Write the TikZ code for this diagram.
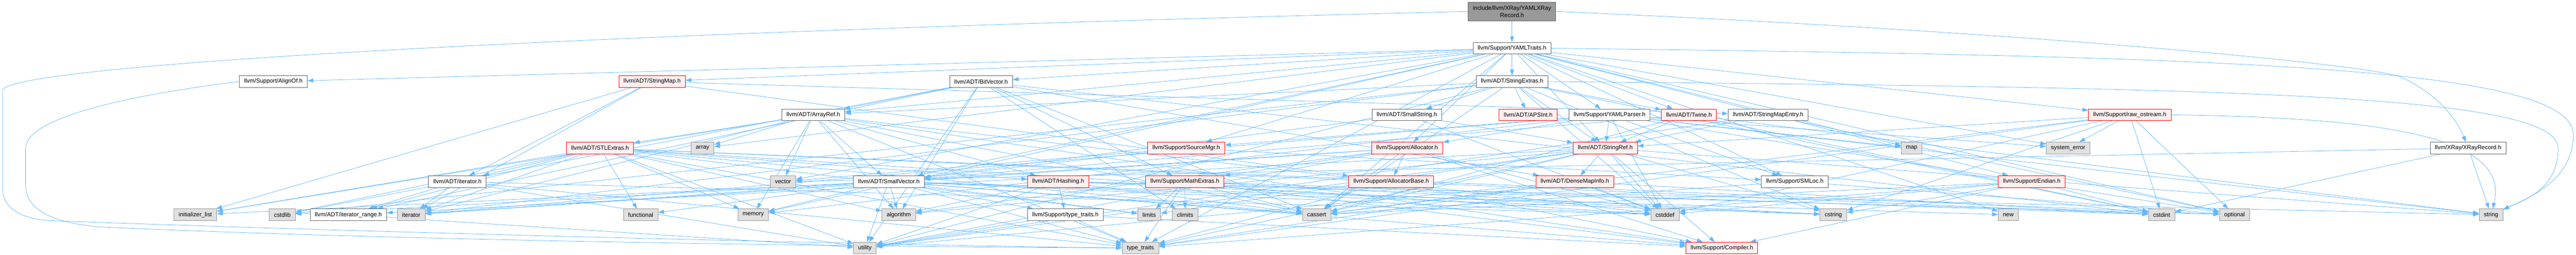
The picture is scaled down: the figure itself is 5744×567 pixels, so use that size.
\documentclass[tikz,border=0pt]{standalone}
\usepackage{fontspec}
\setmainfont{Liberation Sans}
\usetikzlibrary{arrows.meta, backgrounds}
\definecolor{edgeblue}{HTML}{63B8FF}
\definecolor{rootfill}{HTML}{999999}
\definecolor{rootline}{HTML}{666666}
\definecolor{hdrline}{HTML}{666666}
\definecolor{sysfill}{HTML}{E0E0E0}
\definecolor{sysline}{HTML}{999999}
\definecolor{truncfill}{HTML}{FFF0F0}

\begin{document}
\begin{tikzpicture}[
    x=1bp, y=-1bp,
    filebox/.style={
        rectangle, line width=1bp, inner xsep=10.5bp, inner ysep=0pt,
        minimum height=26bp, font=\fontsize{13.1bp}{15.7bp}\selectfont
    },
    rootnode/.style={
        filebox, fill=rootfill, draw=rootline, align=center, minimum height=41bp
    },
    hdr/.style={
        filebox, fill=white, draw=hdrline
    },
    sysinc/.style={
        filebox, fill=sysfill, draw=sysline
    },
    trunc/.style={
        filebox, fill=truncfill, draw=red
    },
    incl/.style={
        draw=edgeblue, line width=0.9bp, -{Triangle[length=13bp, width=9bp]}
    }
]

% Canvas: 1 unit = 1 px of the reference, y grows downward
\useasboundingbox (0,0) rectangle (5744,567);

% Row 0: the file itself
\node[rootnode] (title) at (3371.5,25.5) {include/llvm/XRay/YAMLXRay\\Record.h};

% Row 1
\node[hdr] (yamltraits) at (3371.5,107.5) {llvm/Support/YAMLTraits.h};

% Row 2
\node[hdr]   (alignof)      at (609.5,181.5)  {llvm/Support/AlignOf.h};
\node[trunc] (stringmap)    at (1454,181.5)   {llvm/ADT/StringMap.h};
\node[hdr]   (bitvector)    at (2187.5,181.5) {llvm/ADT/BitVector.h};
\node[hdr]   (stringextras) at (3371.5,181.5) {llvm/ADT/StringExtras.h};

% Row 3
\node[hdr]   (arrayref)       at (1813.5,255.5) {llvm/ADT/ArrayRef.h};
\node[hdr]   (smallstring)    at (3137,255.5)   {llvm/ADT/SmallString.h};
\node[trunc] (apsint)         at (3407.5,255.5) {llvm/ADT/APSInt.h};
\node[hdr]   (yamlparser)     at (3589,255.5)   {llvm/Support/YAMLParser.h};
\node[trunc] (twine)          at (3766,255.5)   {llvm/ADT/Twine.h};
\node[hdr]   (stringmapentry) at (3942.5,255.5) {llvm/ADT/StringMapEntry.h};
\node[trunc] (rawostream)     at (4749,255.5)   {llvm/Support/raw\_ostream.h};

% Row 4
\node[trunc]  (stlextras)   at (1338,329.5)   {llvm/ADT/STLExtras.h};
\node[sysinc] (array)       at (1566.5,329.5) {array};
\node[trunc]  (sourcemgr)   at (2645,329.5)   {llvm/Support/SourceMgr.h};
\node[trunc]  (allocator)   at (3137.5,329.5) {llvm/Support/Allocator.h};
\node[trunc]  (stringref)   at (3579.5,329.5) {llvm/ADT/StringRef.h};
\node[sysinc] (map)         at (4262.5,329.5) {map};
\node[sysinc] (systemerror) at (4611.5,329.5) {system\_error};
\node[hdr]    (xrayrecord)  at (5503.5,329.5) {llvm/XRay/XRayRecord.h};

% Row 5
\node[hdr]    (iterator)      at (1020,404)   {llvm/ADT/iterator.h};
\node[sysinc] (vector)        at (1746,404)   {vector};
\node[hdr]    (smallvector)   at (1982,404)   {llvm/ADT/SmallVector.h};
\node[trunc]  (hashing)       at (2359.5,404) {llvm/ADT/Hashing.h};
\node[trunc]  (mathextras)    at (2642,404)   {llvm/Support/MathExtras.h};
\node[trunc]  (allocatorbase) at (3102,404)   {llvm/Support/AllocatorBase.h};
\node[trunc]  (densemapinfo)  at (3511.5,404) {llvm/ADT/DenseMapInfo.h};
\node[hdr]    (smloc)         at (4002,404)   {llvm/Support/SMLoc.h};
\node[trunc]  (endian)        at (4530.5,404) {llvm/Support/Endian.h};

% Row 6
\node[sysinc] (initlist)    at (435.5,478)  {initializer\_list};
\node[sysinc] (cstdlib)     at (629.5,478)  {cstdlib};
\node[hdr]    (iterrange)   at (777,478)    {llvm/ADT/iterator\_range.h};
\node[sysinc] (iteratorstd) at (917,478)    {iterator};
\node[sysinc] (functional)  at (1428.5,478) {functional};
\node[sysinc] (memory)      at (1679.5,478) {memory};
\node[sysinc] (algorithm)   at (2004,478)   {algorithm};
\node[hdr]    (typetraitsh) at (2375.5,478) {llvm/Support/type\_traits.h};
\node[sysinc] (limits)      at (2562.5,478) {limits};
\node[sysinc] (climits)     at (2642.5,478) {climits};
\node[sysinc] (cassert)     at (2936,478)   {cassert};
\node[sysinc] (cstddef)     at (3712.5,478) {cstddef};
\node[sysinc] (cstring)     at (4088,478)   {cstring};
\node[sysinc] (new)         at (4478,478)   {new};
\node[sysinc] (cstdint)     at (4820,478)   {cstdint};
\node[sysinc] (optional)    at (4982.5,478) {optional};
\node[sysinc] (string)      at (5554.5,478) {string};

% Row 7
\node[sysinc] (utility)    at (1928.5,552) {utility};
\node[sysinc] (typetraits) at (2543,552)   {type\_traits};
\node[trunc]  (compiler)   at (3839.5,552) {llvm/Support/Compiler.h};

% -- Include edges (behind the boxes) --
\begin{scope}[on background layer]

% root file
\draw[incl] (title) -- (yamltraits);
\draw[incl] (title.west) .. controls (1400,70) and (40,140) .. (6,200)
    -- (6,420) .. controls (6,470) and (60,488) .. (110,491)
    .. controls (900,520) and (2100,548) .. (typetraits);
\draw[incl] (title.east) .. controls (4500,70) and (5250,140) .. (5350,170)
    .. controls (5440,210) and (5480,270) .. (xrayrecord);

% YAMLTraits.h
\foreach \t in {arrayref, bitvector, smallvector, stringextras, stringmap,
    stringref, twine, alignof, allocator, endian, smloc, sourcemgr,
    yamlparser, rawostream, array, cassert, map, memory, new, optional,
    systemerror, typetraits, vector} {
    \draw[incl] (yamltraits) -- (\t);
}
\draw[incl] (yamltraits.east) .. controls (5000,125) and (5738,150) .. (5738,300)
    .. controls (5738,400) and (5640,440) .. (string);

% StringExtras.h
\foreach \t in {smallstring, apsint, arrayref, stringref, twine, cassert,
    cstddef, cstdint, cstdlib, cstring, iteratorstd, utility} {
    \draw[incl] (stringextras) -- (\t);
}
\draw[incl] (stringextras.east) .. controls (5000,195) and (5704,210) .. (5704,330)
    .. controls (5704,420) and (5630,445) .. (string);

% StringMap.h
\foreach \t in {stringmapentry, iterator, allocatorbase, initlist, iteratorstd} {
    \draw[incl] (stringmap) -- (\t);
}

% BitVector.h
\foreach \t in {arrayref, densemapinfo, iterrange, mathextras, algorithm,
    cassert, climits, cstdint, cstdlib, utility} {
    \draw[incl] (bitvector) -- (\t);
}

% AlignOf.h
\draw[incl] (alignof.west) .. controls (300,210) and (57,260) .. (57,330)
    -- (57,410) .. controls (57,470) and (120,495) .. (220,505)
    .. controls (1000,540) and (2100,550) .. (typetraits);

% ArrayRef.h
\foreach \t in {hashing, smallvector, stlextras, compiler, algorithm, array,
    cassert, cstddef, initlist, iteratorstd, memory, typetraits, vector} {
    \draw[incl] (arrayref) -- (\t);
}

% SmallString.h, Twine.h, StringMapEntry.h
\foreach \t in {smallvector, stringref, cstddef} {
    \draw[incl] (smallstring) -- (\t);
}
\foreach \t in {smallvector, stringref, cassert, cstdint, string} {
    \draw[incl] (twine) -- (\t);
}
\foreach \t in {stringref, optional, utility} {
    \draw[incl] (stringmapentry) -- (\t);
}

% YAMLParser.h
\foreach \t in {stringref, allocator, smloc, sourcemgr, cstddef, iteratorstd,
    map, memory, optional, string, systemerror} {
    \draw[incl] (yamlparser) -- (\t);
}

% raw_ostream.h
\foreach \t in {stringref, cassert, cstddef, cstdint, cstring, optional,
    systemerror, typetraits} {
    \draw[incl] (rawostream) -- (\t);
}
\draw[incl] (rawostream.east) .. controls (5300,262) and (5600,300) .. (string);

% XRayRecord.h
\foreach \t in {cstdint, vector, string} {
    \draw[incl] (xrayrecord) -- (\t);
}

% STLExtras.h
\foreach \t in {hashing, iterator, iterrange, algorithm, cassert, cstddef,
    cstdint, cstdlib, functional, initlist, iteratorstd, limits, memory,
    optional, typetraits, utility} {
    \draw[incl] (stlextras) -- (\t);
}

% SourceMgr.h, Allocator.h, StringRef.h
\foreach \t in {smallvector, smloc, vector} {
    \draw[incl] (sourcemgr) -- (\t);
}
\foreach \t in {smallvector, allocatorbase, compiler, mathextras, algorithm,
    cassert, cstddef, iteratorstd, utility} {
    \draw[incl] (allocator) -- (\t);
}
\foreach \t in {densemapinfo, iterrange, compiler, algorithm, cassert,
    cstddef, cstring, limits, string, typetraits, utility} {
    \draw[incl] (stringref) -- (\t);
}

% iterator.h, SmallVector.h
\foreach \t in {iterrange, cstddef, iteratorstd, typetraits, utility} {
    \draw[incl] (iterator) -- (\t);
}
\foreach \t in {compiler, typetraitsh, algorithm, cassert, cstddef, cstdlib,
    cstring, functional, initlist, iteratorstd, limits, memory, new,
    typetraits, utility} {
    \draw[incl] (smallvector) -- (\t);
}

% Hashing.h, MathExtras.h
\foreach \t in {typetraitsh, algorithm, cassert, cstring, optional, string, utility} {
    \draw[incl] (hashing) -- (\t);
}
\foreach \t in {compiler, cassert, climits, cstdint, cstring, limits, typetraits} {
    \draw[incl] (mathextras) -- (\t);
}

% AllocatorBase.h, DenseMapInfo.h, SMLoc.h, Endian.h
\foreach \t in {compiler, typetraits} {
    \draw[incl] (allocatorbase) -- (\t);
}
\foreach \t in {cassert, cstddef, cstdint, typetraits, utility} {
    \draw[incl] (densemapinfo) -- (\t);
}
\foreach \t in {cassert, optional} {
    \draw[incl] (smloc) -- (\t);
}
\foreach \t in {compiler, cassert, cstddef, cstdint, cstring, typetraits} {
    \draw[incl] (endian) -- (\t);
}

% iterator_range.h, type_traits.h
\draw[incl] (iterrange) -- (utility);
\foreach \t in {compiler, typetraits, utility} {
    \draw[incl] (typetraitsh) -- (\t);
}

\end{scope}

\end{tikzpicture}
\end{document}
